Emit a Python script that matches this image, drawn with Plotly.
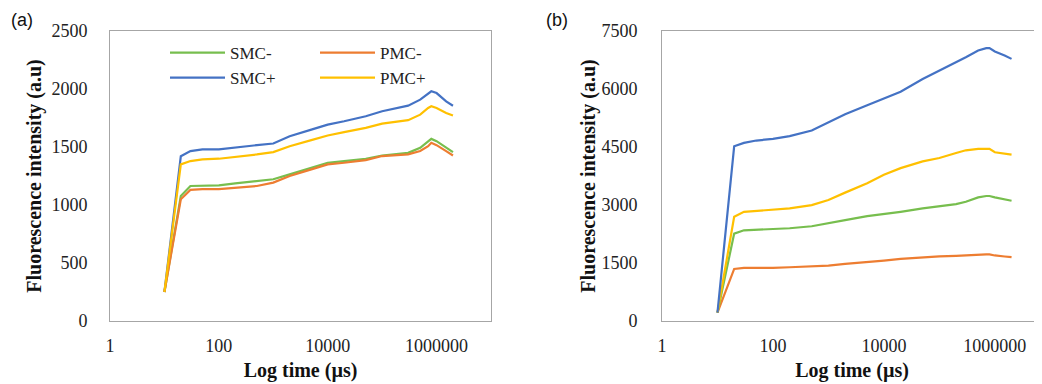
import plotly.graph_objects as go

time_us = [10, 20, 30, 50, 100, 200, 500, 1000, 2000, 5000, 10000, 20000, 50000,
           100000, 200000, 300000, 500000, 700000, 800000, 1000000, 1500000, 2000000]

# Panel (a)
a_smc_minus = [250, 1078, 1164, 1164, 1170, 1187, 1207, 1222, 1264, 1321, 1364, 1379, 1399,
               1427, 1445, 1450, 1493, 1550, 1570, 1550, 1493, 1456]
a_pmc_minus = [250, 1050, 1130, 1136, 1136, 1150, 1164, 1193, 1250, 1307, 1350, 1364, 1387,
               1422, 1427, 1436, 1465, 1507, 1536, 1516, 1465, 1427]
a_smc_plus = [250, 1420, 1465, 1480, 1480, 1493, 1516, 1530, 1593, 1650, 1693, 1722, 1765,
              1808, 1836, 1856, 1908, 1965, 1980, 1965, 1893, 1856]
a_pmc_plus = [250, 1350, 1379, 1393, 1399, 1413, 1436, 1456, 1507, 1559, 1599, 1628, 1665,
              1702, 1722, 1731, 1779, 1837, 1851, 1837, 1794, 1771]

# Panel (b)
b_smc_minus = [217, 2260, 2346, 2364, 2372, 2399, 2451, 2520, 2607, 2711, 2764, 2824, 2911,
               2972, 3024, 3085, 3198, 3233, 3233, 3198, 3146, 3111]
b_pmc_minus = [217, 1347, 1373, 1365, 1373, 1390, 1408, 1434, 1477, 1521, 1564, 1608, 1651,
               1669, 1686, 1703, 1721, 1721, 1721, 1695, 1669, 1651]
b_smc_plus = [217, 4519, 4606, 4667, 4710, 4780, 4927, 5127, 5345, 5579, 5753, 5927, 6257,
              6474, 6674, 6822, 6996, 7057, 7057, 6970, 6865, 6779]
b_pmc_plus = [217, 2694, 2824, 2850, 2868, 2911, 2998, 3129, 3320, 3563, 3780, 3954, 4128,
              4215, 4345, 4415, 4450, 4450, 4450, 4363, 4328, 4302]

names = ["SMC-", "SMC+", "PMC-", "PMC+"]
colors = {"SMC-": "#77BE4E", "PMC-": "#ED7D31", "SMC+": "#4472C4", "PMC+": "#FFC000"}
legend_of = {"SMC-": "legend", "SMC+": "legend", "PMC-": "legend2", "PMC+": "legend2"}

a_data = {"SMC-": a_smc_minus, "SMC+": a_smc_plus, "PMC-": a_pmc_minus, "PMC+": a_pmc_plus}
b_data = {"SMC-": b_smc_minus, "SMC+": b_smc_plus, "PMC-": b_pmc_minus, "PMC+": b_pmc_plus}

fig = go.Figure()
for n in names:
    fig.add_trace(go.Scatter(x=time_us, y=a_data[n], mode="lines", name=n,
                             line=dict(color=colors[n], width=2.2),
                             legend=legend_of[n], xaxis="x", yaxis="y"))
for n in ["PMC-", "SMC-", "PMC+", "SMC+"]:
    fig.add_trace(go.Scatter(x=time_us, y=b_data[n], mode="lines", name=n,
                             line=dict(color=colors[n], width=2.2),
                             showlegend=False, xaxis="x2", yaxis="y2"))

# page body has an 8px default margin, so the figure is sized to fit the window
W, H = 1034, 376
OFF = 8
serif = "Liberation Serif, Times New Roman, serif"
tickfont = dict(family=serif, size=18, color="#222")
titlefont = dict(family=serif, size=20, color="#111")
axcol = "#A6A6A6"

xticks = [1, 100, 10000, 1000000]
xtext = ["1", "100", "10000", "1000000"]

def px_x(s):
    return (s - OFF) / W

def px_y(s):
    return 1 - (s - OFF) / H

def xaxis(domain, rng, anchor):
    return dict(domain=domain, type="log", range=rng, tickvals=xticks, ticktext=xtext,
                showgrid=False, zeroline=False, showline=True, linecolor=axcol, linewidth=1,
                mirror=True, ticks="", tickfont=tickfont, ticklabelstandoff=8,
                title=dict(text="<b>Log time (µs)</b>", font=titlefont, standoff=8),
                anchor=anchor, automargin=False)

def yaxis(domain, rng, dtick, anchor, standoff_lbl, standoff_title):
    return dict(domain=domain, range=rng, dtick=dtick, tick0=0,
                showgrid=False, zeroline=False, showline=True, linecolor=axcol, linewidth=1,
                mirror=True, ticks="", tickfont=tickfont, ticklabelstandoff=standoff_lbl,
                title=dict(text="<b>Fluorescence intensity (a.u)</b>", font=titlefont,
                           standoff=standoff_title),
                anchor=anchor, automargin=False)

ydom = [px_y(321), px_y(31)]
legfont = dict(family=serif, size=17, color="#222")
fig.update_layout(
    width=W, height=H,
    margin=dict(l=0, r=0, t=0, b=0),
    paper_bgcolor="white", plot_bgcolor="white",
    xaxis=xaxis([px_x(110), px_x(491)], [0, 7], "y"),
    yaxis=yaxis(ydom, [0, 2500], 500, "x", 18, 4),
    xaxis2=xaxis([px_x(662), 1.0], [0, 6.85], "y2"),
    yaxis2=yaxis(ydom, [0, 7500], 1500, "x2", 20, 0),
    legend=dict(x=px_x(165), y=px_y(35), xanchor="left", yanchor="top",
                font=legfont, bgcolor="rgba(0,0,0,0)", itemwidth=55, tracegroupgap=0),
    legend2=dict(x=px_x(315), y=px_y(35), xanchor="left", yanchor="top",
                 font=legfont, bgcolor="rgba(0,0,0,0)", itemwidth=55, tracegroupgap=0),
    annotations=[
        dict(text="(a)", x=px_x(9), y=px_y(20), xref="paper", yref="paper",
             xanchor="left", yanchor="middle", showarrow=False,
             font=dict(family="Liberation Sans, Arial, sans-serif", size=18, color="#111")),
        dict(text="(b)", x=px_x(544), y=px_y(20), xref="paper", yref="paper",
             xanchor="left", yanchor="middle", showarrow=False,
             font=dict(family="Liberation Sans, Arial, sans-serif", size=18, color="#111")),
    ],
)

fig.write_html("out.html")
